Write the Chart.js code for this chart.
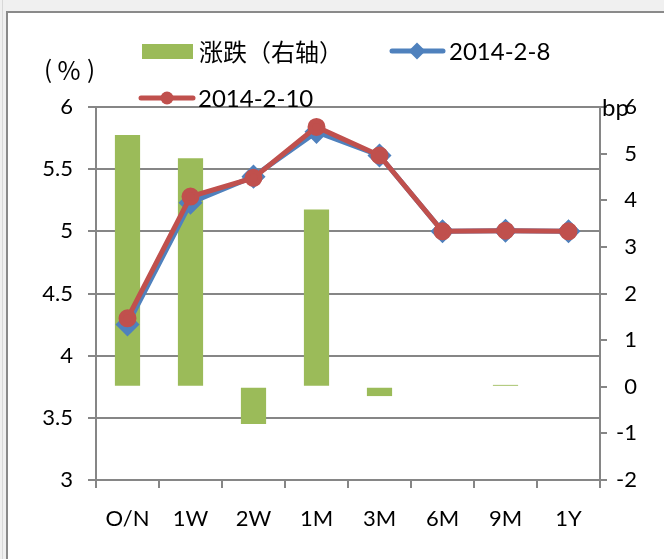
<!DOCTYPE html>
<html>
<head>
<meta charset="utf-8">
<script src="https://cdn.jsdelivr.net/npm/chart.js@4"></script>
<style>
  html, body { margin: 0; padding: 0; background: #f0f0f0; }
  #wrap { position: relative; width: 664px; height: 559px; overflow: hidden; }
  #frame { position: absolute; left: 6px; top: 11px; width: 700px; height: 600px;
           background: #fff; border-left: 2px solid #8a8a8a; border-top: 2px solid #8a8a8a; }
  #edge { position: absolute; left: 2px; top: 0; width: 1px; height: 559px; background: #d8d8d8; }
  canvas { position: absolute; left: 0; top: 0; }
</style>
</head>
<body>
<div id="wrap">
  <div id="edge"></div>
  <div id="frame"></div>
  <canvas id="chart" width="664" height="559"></canvas>
</div>
<script>
const categories = ['O/N', '1W', '2W', '1M', '3M', '6M', '9M', '1Y'];
const change = [5.4, 4.9, -0.8, 3.8, -0.2, 0, 0.04, 0];          // bp, right axis
const rate0208 = [4.25, 5.23, 5.44, 5.80, 5.61, 5.00, 5.005, 5.00]; // %
const rate0210 = [4.30, 5.28, 5.43, 5.84, 5.61, 5.00, 5.005, 5.00]; // %
const leftTicks = [3, 3.5, 4, 4.5, 5, 5.5, 6];
const rightTicks = [-2, -1, 0, 1, 2, 3, 4, 5, 6];

const GREEN = '#9bbb59', BLUE = '#4f81bd', RED = '#c0504d', GRID = '#868686';
const FONT = 'Lato, "Noto Sans CJK SC", sans-serif';
const CJK = '"Noto Sans CJK SC", sans-serif';

const extras = {
  id: 'extras',
  afterDraw(chart) {
    const ctx = chart.ctx;
    ctx.save();
    ctx.textBaseline = 'middle';
    // legend row 1
    ctx.fillStyle = GREEN;
    ctx.fillRect(142, 44, 51, 15);
    ctx.fillStyle = '#000';
    ctx.font = '24px ' + CJK;
    ctx.fillText('涨跌（右轴）', 199, 52);
    ctx.strokeStyle = BLUE; ctx.lineWidth = 5; ctx.lineCap = 'round';
    ctx.beginPath(); ctx.moveTo(392, 51); ctx.lineTo(443, 51); ctx.stroke();
    ctx.fillStyle = BLUE;
    ctx.beginPath(); ctx.moveTo(417, 42.5); ctx.lineTo(425.5, 51); ctx.lineTo(417, 59.5); ctx.lineTo(408.5, 51); ctx.closePath(); ctx.fill();
    ctx.fillStyle = '#000';
    ctx.font = '24px ' + FONT;
    ctx.fillText('2014-2-8', 449, 52);
    // legend row 2
    ctx.strokeStyle = RED;
    ctx.beginPath(); ctx.moveTo(141, 98); ctx.lineTo(193, 98); ctx.stroke();
    ctx.fillStyle = RED;
    ctx.beginPath(); ctx.arc(167, 98, 6.5, 0, Math.PI * 2); ctx.fill();
    ctx.fillStyle = '#000';
    ctx.fillText('2014-2-10', 198, 99);
    // axis units
    ctx.textAlign = 'center';
    ctx.font = '24px ' + CJK;
    ctx.fillText('(', 48, 69);
    ctx.fillText(')', 91, 69);
    ctx.font = '25px ' + CJK;
    ctx.fillText('%', 69, 70);
    ctx.textAlign = 'left';
    ctx.font = '24px ' + FONT;
    ctx.fillText('bp', 602, 108);
    ctx.restore();
  }
};

new Chart(document.getElementById('chart'), {
  data: {
    labels: categories,
    datasets: [
      { type: 'line', label: '2014-2-10', data: rate0210, yAxisID: 'y', order: 1,
        borderColor: RED, backgroundColor: RED, borderWidth: 5,
        pointStyle: 'circle', pointRadius: 6.5, pointHoverRadius: 6.5 },
      { type: 'line', label: '2014-2-8', data: rate0208, yAxisID: 'y', order: 2,
        borderColor: BLUE, backgroundColor: BLUE, borderWidth: 5,
        pointStyle: 'rectRot', pointRadius: 8.5, pointHoverRadius: 8.5 },
      { type: 'bar', label: '涨跌（右轴）', data: change, yAxisID: 'y1', order: 3,
        backgroundColor: GREEN, barPercentage: 0.4, categoryPercentage: 1 }
    ]
  },
  options: {
    responsive: false,
    animation: false,
    layout: { padding: { top: 107, left: 0, right: 27, bottom: 0 } },
    plugins: { legend: { display: false }, tooltip: { enabled: false } },
    scales: {
      x: {
        offset: true,
        grid: { offset: true, drawOnChartArea: false, color: GRID, lineWidth: 2, tickLength: 8 },
        border: { color: GRID, width: 2 },
        ticks: { color: '#000', font: { family: FONT, size: 22 }, padding: 18, maxRotation: 0 },
        afterFit: s => { s.height = 79; }
      },
      y: {
        position: 'left', min: 3, max: 6,
        afterBuildTicks: s => { s.ticks = leftTicks.map(v => ({ value: v })); },
        grid: { color: GRID, lineWidth: 2, tickLength: 8 },
        border: { color: GRID, width: 2 },
        ticks: { color: '#000', font: { family: FONT, size: 22 }, padding: 15, callback: v => String(v) },
        afterFit: s => { s.width = 96; }
      },
      y1: {
        position: 'right', min: -2, max: 6,
        afterBuildTicks: s => { s.ticks = rightTicks.map(v => ({ value: v })); },
        grid: { drawOnChartArea: false, color: GRID, lineWidth: 2, tickLength: 7 },
        border: { color: GRID, width: 2 },
        ticks: { color: '#000', font: { family: FONT, size: 22 }, padding: 6, crossAlign: 'far', callback: v => String(v) },
        afterFit: s => { s.width = 37; }
      }
    }
  },
  plugins: [extras]
});
</script>
</body>
</html>
